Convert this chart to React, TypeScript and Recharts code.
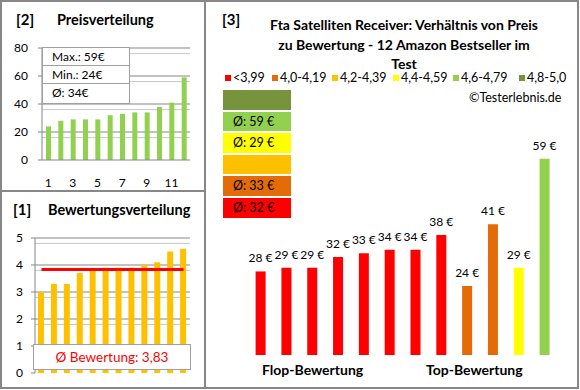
import React from 'react';
import { BarChart, ComposedChart, Bar, Line, XAxis, YAxis, CartesianGrid, Cell, LabelList } from 'recharts';

// ---------- data ----------
const priceCategories = ['1', '2', '3', '4', '5', '6', '7', '8', '9', '10', '11', '12'];
const prices = [24, 28, 29, 29, 29, 32, 33, 34, 34, 38, 41, 59];
const priceTicks = [0, 20, 40, 60, 80];
const priceStats = ['Max.: 59€', 'Min.: 24€', 'Ø: 34€'];

const ratings = [3.0, 3.3, 3.3, 3.7, 3.8, 3.9, 3.9, 3.9, 4.0, 4.1, 4.5, 4.6];
const avgRating = 3.83;
const ratingTicks = [0, 1, 2, 3, 4, 5];
const avgRatingLabel = 'Ø Bewertung: 3,83';

const ratioPrices = [28, 29, 29, 32, 33, 34, 34, 38, 24, 41, 29, 59];
const ratioClassIndex = [0, 0, 0, 0, 0, 0, 0, 0, 1, 1, 3, 4];
const classLabels = ['<3,99', '4,0-4,19', '4,2-4,39', '4,4-4,59', '4,6-4,79', '4,8-5,0'];
const classAverages = ['Ø: 32 €', 'Ø: 33 €', '', 'Ø: 29 €', 'Ø: 59 €', ''];
const titleLines = [
  'Fta Satelliten Receiver: Verhältnis von Preis',
  'zu Bewertung - 12 Amazon Bestseller im',
  'Test',
];

// ---------- styles ----------
const classColors = ['#FF0000', '#E36C09', '#FFC000', '#FFFF00', '#92D050', '#77933C'];
const FONT = 'Lato, "Open Sans", sans-serif';
const GRID_MINOR = '#C8C8C8';
const GRID_MAJOR = '#868686';

const priceData = priceCategories.map((c, i) => ({ n: c, price: prices[i] }));
const ratingData = priceCategories.map((c, i) => ({ n: c, rating: ratings[i], avg: avgRating }));
const ratioData = priceCategories.map((c, i) => ({ n: c, price: ratioPrices[i], cls: ratioClassIndex[i] }));

const priceMinor: number[] = [];
for (let v = 4; v < 80; v += 4) if (v % 20 !== 0) priceMinor.push(v);
const ratingMinor: number[] = [];
for (let k = 1; k < 25; k++) if (k % 5 !== 0) ratingMinor.push(Math.round(k * 20) / 100);

const legendX = [225, 272, 332, 393, 453, 519];
const boxOrder = [5, 4, 3, 2, 1, 0];

const PriceLabel = (props: any) => {
  const { x, y, width, value } = props;
  return (
    <text x={Number(x) + Number(width) / 2} y={Number(y) - 9} textAnchor="middle" fill="#000" fontSize={12} fontFamily={FONT}>
      {`${value} €`}
    </text>
  );
};

export default function App() {
  const abs = (l: number, t: number, extra: React.CSSProperties = {}): React.CSSProperties => ({
    position: 'absolute',
    left: l,
    top: t,
    ...extra,
  });
  return (
    <div style={{ position: 'absolute', left: 0, top: 0, width: 580, height: 390, background: '#fff', fontFamily: FONT, overflow: 'hidden', color: '#000' }}>
      <svg width={580} height={390} style={abs(0, 0)}>
        <rect x={1} y={1} width={577} height={387} fill="none" stroke="#878787" strokeWidth={2} />
        <line x1={205} y1={1} x2={205} y2={388} stroke="#878787" strokeWidth={2} />
        <line x1={1} y1={191} x2={205} y2={191} stroke="#878787" strokeWidth={2} />
      </svg>

      {/* Panel [2] */}
      <div style={abs(16, 10, { fontWeight: 700, fontSize: 15 })}>[2]</div>
      <div style={abs(57, 11, { fontWeight: 700, fontSize: 14.5 })}>Preisverteilung</div>
      <div style={abs(0, 0)}>
        <BarChart width={200} height={190} data={priceData} margin={{ top: 48, right: 10, bottom: 0, left: 0 }}>
          <CartesianGrid vertical={false} horizontalValues={priceMinor} stroke={GRID_MINOR} />
          <CartesianGrid vertical={false} horizontalValues={[20, 40, 60, 80]} stroke={GRID_MAJOR} />
          <XAxis dataKey="n" interval={1} tickLine={false} axisLine={{ stroke: GRID_MAJOR }} height={30} tickMargin={12} tick={{ fill: '#000', fontSize: 12, fontFamily: FONT }} />
          <YAxis domain={[0, 80]} ticks={priceTicks} width={42} tickSize={4} tickMargin={10} axisLine={{ stroke: GRID_MAJOR }} tickLine={{ stroke: GRID_MAJOR }} tick={{ fill: '#000', fontSize: 12, fontFamily: FONT }} />
          <Bar dataKey="price" fill="#92D050" barSize={5} isAnimationActive={false} />
        </BarChart>
      </div>
      <div style={abs(42, 47, { width: 88, height: 57, background: '#fff', border: '1px solid #A0A0A0', boxSizing: 'border-box' })}>
        {priceStats.map((s, i) => (
          <div key={s} style={{ height: i === 2 ? 19 : 18, borderBottom: i < 2 ? '1px solid #A0A0A0' : 'none', fontSize: 12, lineHeight: '18px', paddingLeft: 9, boxSizing: 'border-box' }}>{s}</div>
        ))}
      </div>

      {/* Panel [1] */}
      <div style={abs(13, 200, { fontWeight: 700, fontSize: 15 })}>[1]</div>
      <div style={abs(48, 201, { fontWeight: 700, fontSize: 14.5 })}>Bewertungsverteilung</div>
      <div style={abs(0, 191)}>
        <ComposedChart width={200} height={197} data={ratingData} margin={{ top: 47, right: 10, bottom: 15, left: 0 }}>
          <CartesianGrid vertical={false} horizontalValues={ratingMinor} stroke={GRID_MINOR} />
          <CartesianGrid vertical={false} horizontalValues={[1, 2, 3, 4, 5]} stroke={GRID_MAJOR} />
          <XAxis dataKey="n" hide />
          <YAxis domain={[0, 5]} ticks={ratingTicks} width={35} tickSize={4} tickMargin={8} axisLine={{ stroke: GRID_MAJOR }} tickLine={{ stroke: GRID_MAJOR }} tick={{ fill: '#000', fontSize: 12, fontFamily: FONT }} />
          <Bar dataKey="rating" fill="#FFC000" barSize={6} isAnimationActive={false} />
          <Line dataKey="avg" stroke="#FF0000" strokeWidth={3} dot={false} isAnimationActive={false} />
        </ComposedChart>
      </div>
      <div style={abs(33, 344, { width: 158, height: 26, background: '#fff', border: '1px solid #A0A0A0', boxSizing: 'border-box', color: '#FF0000', fontSize: 13.5, textAlign: 'center', lineHeight: '24px' })}>{avgRatingLabel}</div>

      {/* Panel [3] */}
      <div style={abs(222, 10, { fontWeight: 700, fontSize: 15 })}>[3]</div>
      {titleLines.map((t, i) => (
        <div key={t} style={abs(234, 16 + i * 19.5, { width: 340, textAlign: 'center', fontWeight: 700, fontSize: 14, whiteSpace: 'nowrap' })}>{t}</div>
      ))}
      {classLabels.map((l, i) => (
        <div key={l} style={abs(legendX[i], 70, { fontSize: 12.5, whiteSpace: 'nowrap', display: 'flex', alignItems: 'center' })}>
          <span style={{ display: 'inline-block', width: 6, height: 6, background: classColors[i], marginRight: 2 }} />
          <span>{l}</span>
        </div>
      ))}
      <div style={abs(469, 90, { fontSize: 12.5, whiteSpace: 'nowrap' })}>©Testerlebnis.de</div>
      {boxOrder.map((ci, k) => (
        <div key={ci} style={abs(223, 90 + k * 21.6, { width: 68, height: 19.5, background: classColors[ci], fontSize: 12.5, lineHeight: '19.5px', paddingLeft: 10, boxSizing: 'border-box', whiteSpace: 'nowrap' })}>{classAverages[ci]}</div>
      ))}
      <div style={abs(205, 0)}>
        <BarChart width={373} height={388} data={ratioData} margin={{ top: 137, right: 20.6, bottom: 33, left: 42.6 }}>
          <XAxis dataKey="n" hide />
          <YAxis domain={[5, 65]} hide allowDataOverflow />
          <Bar dataKey="price" barSize={10} isAnimationActive={false}>
            {ratioData.map((d) => (
              <Cell key={d.n} fill={classColors[d.cls]} />
            ))}
            <LabelList dataKey="price" content={PriceLabel} />
          </Bar>
        </BarChart>
      </div>
      <div style={abs(262, 361, { width: 100, textAlign: 'center', fontWeight: 700, fontSize: 14, whiteSpace: 'nowrap' })}>Flop-Bewertung</div>
      <div style={abs(426, 361, { width: 96, textAlign: 'center', fontWeight: 700, fontSize: 14, whiteSpace: 'nowrap' })}>Top-Bewertung</div>
    </div>
  );
}
